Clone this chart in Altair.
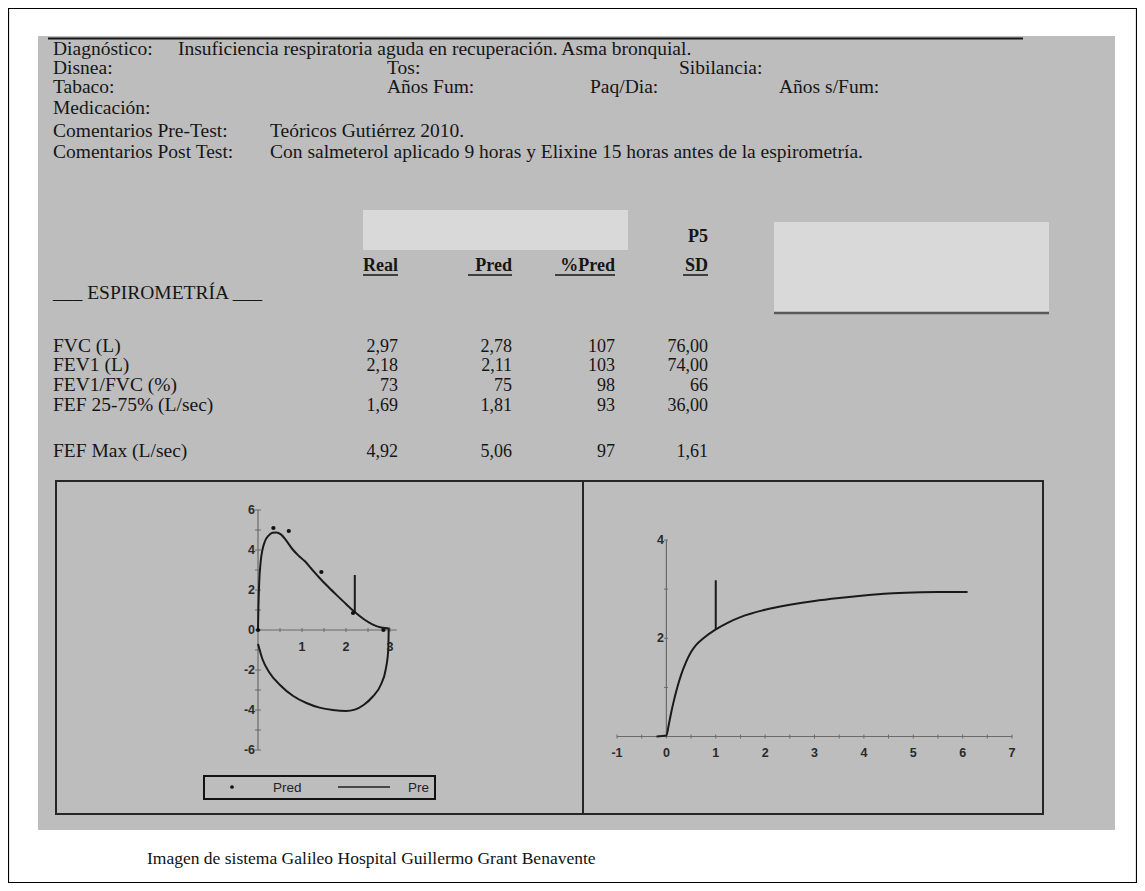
import altair as alt
import pandas as pd

SERIF = "Liberation Serif"
SANS = "Liberation Sans"
INK = "#161616"

# ---------------- data ----------------
diag_text = "Insuficiencia respiratoria aguda en recuperación. Asma bronquial."
pre_comment = "Teóricos Gutiérrez 2010."
post_comment = "Con salmeterol aplicado 9 horas y Elixine 15 horas antes de la espirometría."
row_labels = ["FVC (L)", "FEV1 (L)", "FEV1/FVC (%)", "FEF 25-75% (L/sec)", "FEF Max (L/sec)"]
real_vals = ["2,97", "2,18", "73", "1,69", "4,92"]
pred_vals = ["2,78", "2,11", "75", "1,81", "5,06"]
pct_vals = ["107", "103", "98", "93", "97"]
sd_vals = ["76,00", "74,00", "66", "36,00", "1,61"]

# flow-volume loop (volume L, flow L/s)
fv_vol = [0, 0.01, 0.03, 0.06, 0.1, 0.16, 0.24, 0.33, 0.42, 0.52, 0.64, 0.78, 0.92, 1.06, 1.2, 1.4,
          1.6, 1.8, 2.0, 2.2, 2.4, 2.6, 2.8, 2.97, 2.97, 2.96, 2.9, 2.8, 2.6, 2.4, 2.2, 2.0,
          1.7, 1.4, 1.1, 0.8, 0.5, 0.25, 0.1, 0.0]
fv_flow = [0, 1.2, 2.5, 3.4, 4.0, 4.45, 4.72, 4.86, 4.88, 4.78, 4.48, 4.05, 3.72, 3.45, 3.1, 2.6,
           2.15, 1.72, 1.3, 0.9, 0.55, 0.28, 0.12, 0.08, 0.0, -1.0, -2.0, -2.7, -3.35, -3.75, -3.98, -4.05,
           -4.0, -3.88, -3.65, -3.3, -2.75, -2.1, -1.45, -0.7]
pred_vol = [0, 0.35, 0.7, 1.44, 2.16, 2.85]
pred_flow = [0, 5.1, 4.95, 2.9, 0.85, 0.0]
fv_marker_vol = 2.2
fv_marker_flow = [0.85, 2.75]

# volume-time curve (time s, volume L)
vt_time = [-0.2, 0, 0.05, 0.1, 0.15, 0.2, 0.25, 0.3, 0.4, 0.5, 0.6, 0.75, 1.0, 1.25, 1.5,
           2.0, 2.5, 3.0, 3.5, 4.0, 4.5, 5.0, 5.5, 6.1]
vt_vol = [0, 0.02, 0.25, 0.5, 0.72, 0.92, 1.1, 1.26, 1.52, 1.72, 1.86, 2.0, 2.18, 2.32, 2.43,
          2.58, 2.68, 2.76, 2.82, 2.87, 2.91, 2.93, 2.94, 2.94]
vt_marker_time = 1.0
vt_marker_vol = [2.18, 3.18]

fv_x_ticks = [0, 0.5, 1, 1.5, 2, 2.5, 3]
fv_x_labels = [1, 2, 3]
fv_y_ticks = [-6, -5, -4, -3, -2, -1, 0, 1, 2, 3, 4, 5, 6]
fv_y_labels = [6, 4, 2, 0, -2, -4, -6]
vt_x_ticks = [-1, -0.5, 0, 0.5, 1, 1.5, 2, 2.5, 3, 3.5, 4, 4.5, 5, 5.5, 6, 6.5, 7]
vt_x_labels = [-1, 0, 1, 2, 3, 4, 5, 6, 7]
vt_y_ticks = [1, 2, 3, 4]
vt_y_labels = [4, 2]

caption = "Imagen de sistema Galileo Hospital Guillermo Grant Benavente"

# ---------------- layout helpers ----------------
OX, OY = 8, 8
def cx(v):
    return v - OX
def cy(v):
    return v - OY

one = pd.DataFrame({"k": [0]})
layers = []
FS = 19.5

def text(s, x, y, size=FS, weight="normal", align="left", font=SERIF, color=INK, baseline="alphabetic"):
    layers.append(
        alt.Chart(pd.DataFrame({"t": [s]})).mark_text(
            align=align, baseline=baseline, font=font, fontSize=size,
            fontWeight=weight, color=color
        ).encode(x=alt.value(cx(x)), y=alt.value(cy(y)), text="t:N")
    )

def rect(x1, y1, x2, y2, fill=None, stroke=None, sw=1):
    kw = {}
    if fill:
        kw["fill"] = fill
    else:
        kw["fillOpacity"] = 0
    if stroke:
        kw["stroke"] = stroke
        kw["strokeWidth"] = sw
    layers.append(
        alt.Chart(one).mark_rect(**kw).encode(
            x=alt.value(cx(x1)), x2=alt.value(cx(x2)),
            y=alt.value(cy(y1)), y2=alt.value(cy(y2)))
    )

def hline(x1, x2, y, color=INK, sw=1.5):
    layers.append(
        alt.Chart(one).mark_rule(color=color, strokeWidth=sw).encode(
            x=alt.value(cx(x1)), x2=alt.value(cx(x2)), y=alt.value(cy(y)))
    )

def vline(x, y1, y2, color=INK, sw=1.5):
    layers.append(
        alt.Chart(one).mark_rule(color=color, strokeWidth=sw).encode(
            x=alt.value(cx(x)), y=alt.value(cy(y1)), y2=alt.value(cy(y2)))
    )

# ---------------- page ----------------
rect(0.5 + OX, 0.5 + OY, 1128.5 + OX, 874.5 + OY, stroke="#000000", sw=1.2)
rect(38, 36, 1115, 830, fill="#bdbdbd")
hline(48, 1023, 38.5, sw=2)

# header block
text("Diagnóstico:", 53, 55)
text(diag_text, 178, 55)
text("Disnea:", 53, 74)
text("Tos:", 387, 74)
text("Sibilancia:", 679, 74)
text("Tabaco:", 53, 93)
text("Años Fum:", 387, 93)
text("Paq/Dia:", 590, 93)
text("Años s/Fum:", 779, 93)
text("Medicación:", 53, 114)
text("Comentarios Pre-Test:", 53, 137)
text(pre_comment, 270, 137)
text("Comentarios Post Test:", 53, 158)
text(post_comment, 270, 158)

# redaction boxes
rect(363, 210, 628, 250, fill="#d9d9d9")
rect(774, 222, 1049, 312, fill="#d9d9d9")
hline(774, 1049, 313, color="#5a5a5a", sw=2.5)

# table header
text("P5", 708, 242, size=18, weight="bold", align="right")
col_right = [398, 512, 615, 708]
col_names = ["Real", "Pred", "%Pred", "SD"]
col_left = [363, 468, 555, 683]
for name, xr, xl in zip(col_names, col_right, col_left):
    text(name, xr, 271, size=18, weight="bold", align="right")
    hline(xl, xr, 275, sw=1.5)
text("___ ESPIROMETRÍA ___", 53, 299)

row_y = [352, 371, 391, 411, 457]
for lab, y, a, b, c, d in zip(row_labels, row_y, real_vals, pred_vals, pct_vals, sd_vals):
    text(lab, 53, y)
    for v, xr in zip([a, b, c, d], col_right):
        text(v, xr, y, size=18, align="right")

# plot panels
rect(56, 481, 1043, 814, stroke="#262626", sw=2)
vline(583, 481, 814, color="#262626", sw=2)

# ---------------- flow-volume ----------------
FV_X = alt.Scale(domain=[0, 3], range=[cx(258), cx(390)], nice=False, zero=False)
FV_Y = alt.Scale(domain=[-6, 6], range=[cy(750), cy(510)], nice=False, zero=False)
AX = "#6a6a6a"
LBL = "#2a2a2a"

layers.append(alt.Chart(pd.DataFrame({"a": [0], "b": [3.15], "c": [0]})).mark_rule(color=AX, strokeWidth=1.2).encode(
    x=alt.X("a:Q", scale=FV_X, axis=None), x2="b:Q", y=alt.Y("c:Q", scale=FV_Y, axis=None)))
layers.append(alt.Chart(pd.DataFrame({"a": [0], "b": [-6], "c": [6]})).mark_rule(color=AX, strokeWidth=1.2).encode(
    x=alt.X("a:Q", scale=FV_X, axis=None), y=alt.Y("b:Q", scale=FV_Y, axis=None), y2="c:Q"))
layers.append(alt.Chart(pd.DataFrame({"t": fv_x_ticks})).mark_rule(color=AX, strokeWidth=1).encode(
    x=alt.X("t:Q", scale=FV_X, axis=None), y=alt.value(cy(628)), y2=alt.value(cy(632))))
layers.append(alt.Chart(pd.DataFrame({"t": fv_y_ticks})).mark_rule(color=AX, strokeWidth=1).encode(
    y=alt.Y("t:Q", scale=FV_Y, axis=None), x=alt.value(cx(255)), x2=alt.value(cx(261))))
layers.append(alt.Chart(pd.DataFrame({"t": fv_x_labels, "s": [str(v) for v in fv_x_labels]})).mark_text(
    font=SANS, fontSize=12.5, fontWeight="bold", color=LBL, baseline="middle").encode(
    x=alt.X("t:Q", scale=FV_X, axis=None), y=alt.value(cy(647)), text="s:N"))
layers.append(alt.Chart(pd.DataFrame({"t": fv_y_labels, "s": [str(v) for v in fv_y_labels]})).mark_text(
    font=SANS, fontSize=12.5, fontWeight="bold", color=LBL, baseline="middle", align="right").encode(
    y=alt.Y("t:Q", scale=FV_Y, axis=None), x=alt.value(cx(255)), text="s:N"))

layers.append(alt.Chart(pd.DataFrame({"v": fv_vol, "f": fv_flow, "i": list(range(len(fv_vol)))})).mark_line(
    color="#1a1a1a", strokeWidth=2, interpolate="monotone").encode(
    x=alt.X("v:Q", scale=FV_X, axis=None), y=alt.Y("f:Q", scale=FV_Y, axis=None), order="i:Q"))
layers.append(alt.Chart(pd.DataFrame({"v": [fv_marker_vol], "a": [fv_marker_flow[0]], "b": [fv_marker_flow[1]]})).mark_rule(
    color="#1a1a1a", strokeWidth=2).encode(
    x=alt.X("v:Q", scale=FV_X, axis=None), y=alt.Y("a:Q", scale=FV_Y, axis=None), y2="b:Q"))
layers.append(alt.Chart(pd.DataFrame({"v": pred_vol, "f": pred_flow})).mark_circle(
    color="#111111", size=18, opacity=1).encode(
    x=alt.X("v:Q", scale=FV_X, axis=None), y=alt.Y("f:Q", scale=FV_Y, axis=None)))

# legend
rect(204, 776, 435, 799, stroke="#111111", sw=2)
layers.append(alt.Chart(one).mark_circle(color="#111111", size=14, opacity=1).encode(
    x=alt.value(cx(232)), y=alt.value(cy(787))))
text("Pred", 273, 792, size=13.5, font=SANS, color="#222222")
hline(338, 390, 787, color="#222222", sw=1.3)
text("Pre", 408, 792, size=13.5, font=SANS, color="#222222")

# ---------------- volume-time ----------------
VT_X = alt.Scale(domain=[-1, 7], range=[cx(617), cx(1012)], nice=False, zero=False)
VT_Y = alt.Scale(domain=[0, 4], range=[cy(736.5), cy(540)], nice=False, zero=False)

layers.append(alt.Chart(pd.DataFrame({"a": [-1], "b": [7], "c": [0]})).mark_rule(color=AX, strokeWidth=1.2).encode(
    x=alt.X("a:Q", scale=VT_X, axis=None), x2="b:Q", y=alt.Y("c:Q", scale=VT_Y, axis=None)))
layers.append(alt.Chart(pd.DataFrame({"a": [0], "b": [0], "c": [4]})).mark_rule(color=AX, strokeWidth=1.2).encode(
    x=alt.X("a:Q", scale=VT_X, axis=None), y=alt.Y("b:Q", scale=VT_Y, axis=None), y2="c:Q"))
layers.append(alt.Chart(pd.DataFrame({"t": vt_x_ticks})).mark_rule(color=AX, strokeWidth=1).encode(
    x=alt.X("t:Q", scale=VT_X, axis=None), y=alt.value(cy(734.5)), y2=alt.value(cy(738.5))))
layers.append(alt.Chart(pd.DataFrame({"t": vt_y_ticks})).mark_rule(color=AX, strokeWidth=1).encode(
    y=alt.Y("t:Q", scale=VT_Y, axis=None), x=alt.value(cx(664)), x2=alt.value(cx(668))))
layers.append(alt.Chart(pd.DataFrame({"t": vt_x_labels, "s": [str(v) for v in vt_x_labels]})).mark_text(
    font=SANS, fontSize=12.5, fontWeight="bold", color=LBL, baseline="middle").encode(
    x=alt.X("t:Q", scale=VT_X, axis=None), y=alt.value(cy(753)), text="s:N"))
layers.append(alt.Chart(pd.DataFrame({"t": vt_y_labels, "s": [str(v) for v in vt_y_labels]})).mark_text(
    font=SANS, fontSize=12.5, fontWeight="bold", color=LBL, baseline="middle", align="right").encode(
    y=alt.Y("t:Q", scale=VT_Y, axis=None), x=alt.value(cx(664)), text="s:N"))

layers.append(alt.Chart(pd.DataFrame({"t": vt_time, "v": vt_vol, "i": list(range(len(vt_time)))})).mark_line(
    color="#1a1a1a", strokeWidth=2, interpolate="monotone").encode(
    x=alt.X("t:Q", scale=VT_X, axis=None), y=alt.Y("v:Q", scale=VT_Y, axis=None), order="i:Q"))
layers.append(alt.Chart(pd.DataFrame({"t": [vt_marker_time], "a": [vt_marker_vol[0]], "b": [vt_marker_vol[1]]})).mark_rule(
    color="#1a1a1a", strokeWidth=2).encode(
    x=alt.X("t:Q", scale=VT_X, axis=None), y=alt.Y("a:Q", scale=VT_Y, axis=None), y2="b:Q"))

# caption
text(caption, 147, 864, size=17.5, font=SERIF, color="#111111")

chart = alt.layer(*layers).resolve_scale(x="independent", y="independent").properties(
    width=1129, height=875, padding=0,
    autosize=alt.AutoSizeParams(type="none"),
    background="white",
).configure_view(stroke=None)

chart.save("out.html", embed_options={"renderer": "svg", "actions": False})
